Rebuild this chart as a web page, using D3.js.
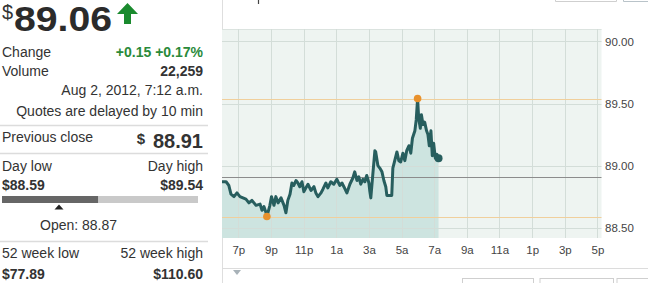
<!DOCTYPE html>
<html>
<head>
<meta charset="utf-8">
<script src="https://cdn.jsdelivr.net/npm/d3@7"></script>
<style>
  html, body { margin: 0; padding: 0; background: #fff; }
  svg { display: block; font-family: "Liberation Sans", Arial, sans-serif; }
</style>
</head>
<body>
<svg id="chart" width="648" height="283"></svg>
<script>
// ---------------- DATA ----------------
const lastPrice = "89.06";
const changeText = "+0.15 +0.17%";
const volumeText = "22,259";
const dateText = "Aug 2, 2012, 7:12 a.m.";
const delayText = "Quotes are delayed by 10 min";
const prevClose = 88.91;
const dayLow = 88.59;
const dayHigh = 89.54;
const openPrice = 88.87;
const week52Low = "$77.89";
const week52High = "$110.60";

// intraday series (Aug 1 evening -> Aug 2 morning)
const times = ["18:00","18:15","18:25","18:33","18:44","18:55","19:06","19:17","19:28","19:39",
  "19:50","20:05","20:20","20:27","20:34","20:42","20:45","20:56","21:02","21:11",
  "21:18","21:26","21:37","21:48","21:55","22:02","22:10","22:17","22:24","22:32",
  "22:39","22:46","22:54","23:01","23:08","23:16","23:27","23:38","23:45","23:53",
  "00:04","00:11","00:22","00:29","00:40","00:51","01:02","01:13","01:21","01:28",
  "01:39","01:50","02:01","02:08","02:16","02:23","02:30","02:38","02:45","02:52",
  "03:00","03:03","03:07","03:14","03:22","03:25","03:33","03:40","03:48","03:55",
  "04:02","04:06","04:24","04:28","04:35","04:43","04:50","04:57","05:05","05:12",
  "05:19","05:27","05:34","05:40","05:49","05:54","05:59","06:03","06:09","06:13",
  "06:19","06:25","06:32","06:37","06:42","06:48","06:53","06:58","07:04","07:10","07:16"];
const prices = [88.87,88.87,88.84,88.77,88.75,88.78,88.75,88.74,88.73,88.70,
  88.72,88.68,88.69,88.64,88.67,88.62,88.59,88.68,88.75,88.68,
  88.75,88.70,88.74,88.68,88.62,88.72,88.77,88.86,88.84,88.88,
  88.86,88.83,88.87,88.79,88.82,88.85,88.80,88.83,88.78,88.75,
  88.78,88.81,88.86,88.82,88.87,88.85,88.89,88.84,88.86,88.83,
  88.78,88.85,88.90,88.95,88.88,88.91,88.85,88.89,88.87,88.92,
  88.86,88.80,88.74,88.92,89.12,89.11,89.00,88.98,88.95,88.88,
  88.83,88.76,88.76,88.98,89.04,89.11,89.04,89.03,89.10,89.04,
  89.12,89.16,89.10,89.22,89.28,89.37,89.54,89.38,89.30,89.41,
  89.33,89.35,89.28,89.25,89.16,89.28,89.08,89.18,89.06,89.09,89.06];

const tickTimes = ["19:00","21:00","23:00","01:00","03:00","05:00","07:00","09:00","11:00","13:00","15:00","17:00"];
const tickLabels = ["7p","9p","11p","1a","3a","5a","7a","9a","11a","1p","3p","5p"];
const yTicks = [88.5, 89.0, 89.5, 90.0];
const xStart = "18:00", xEnd = "17:15";
const yMin = 88.417, yMax = 90.10;

// -------------- helpers --------------
function toDate(s) {
  const [h, m] = s.split(":").map(Number);
  return h >= 18 ? new Date(2012, 7, 1, h, m) : new Date(2012, 7, 2, h, m);
}
const data = times.map((t, i) => ({ t: toDate(t), p: prices[i] }));

const svg = d3.select("#chart");
const font = "'Liberation Sans', Arial, sans-serif";

// ================= LEFT PANEL =================
const L = svg.append("g");
const txtColor = "#333";
const RX = 203;

L.append("text").attr("x", 2).attr("y", 19).attr("font-size", 20).attr("fill", txtColor).text("$");
L.append("text").attr("x", 14).attr("y", 30.5).attr("font-size", 35)
  .attr("font-weight", "bold").attr("fill", "#2b2b2b")
  .attr("textLength", 98).attr("lengthAdjust", "spacingAndGlyphs").text(lastPrice);
// up arrow
L.append("path")
  .attr("d", "M127.5,3 L138,14 L131,14 L131,24 L124,24 L124,14 L117,14 Z")
  .attr("fill", "#1a8a2e");

function row(label, value, y, opts = {}) {
  if (label) L.append("text").attr("x", 2).attr("y", y).attr("font-size", 14)
    .attr("font-weight", opts.boldLabel ? "bold" : "normal").attr("fill", txtColor).text(label);
  if (value) L.append("text").attr("x", RX).attr("y", y).attr("font-size", opts.size || 14)
    .attr("text-anchor", "end").attr("font-weight", opts.bold ? "bold" : "normal")
    .attr("fill", opts.color || txtColor).text(value);
}
row("Change", changeText, 57, { bold: true, color: "#2a8a3a" });
row("Volume", volumeText, 76, { bold: true });
row(null, dateText, 95);
row(null, delayText, 116);

function sep(y) {
  L.append("line").attr("x1", 0).attr("x2", 208).attr("y1", y + 0.5).attr("y2", y + 0.5)
    .attr("stroke", "#dcdcdc").attr("stroke-width", 1.5);
}
sep(125);
row("Previous close", null, 141.5);
L.append("text").attr("x", RX).attr("y", 148).attr("font-size", 20).attr("font-weight", "bold")
  .attr("text-anchor", "end").attr("fill", txtColor).text(d3.format(".2f")(prevClose));
L.append("text").attr("x", 145).attr("y", 144).attr("font-size", 15).attr("font-weight", "bold")
  .attr("text-anchor", "end").attr("fill", txtColor).text("$");
sep(153);
row("Day low", "Day high", 170.5);
row("$" + d3.format(".2f")(dayLow), "$" + d3.format(".2f")(dayHigh), 190, { bold: true, boldLabel: true });

// day range bar
const bar = d3.scaleLinear().domain([0, 1]).range([2, 198]);
const frac = 0.49;
L.append("rect").attr("x", bar(0)).attr("y", 196).attr("width", bar(1) - bar(0)).attr("height", 7).attr("fill", "#c9c9c9");
L.append("rect").attr("x", bar(0)).attr("y", 196).attr("width", bar(frac) - bar(0)).attr("height", 7).attr("fill", "#666");
const openX = 59;
L.append("path").attr("d", `M${openX},204.5 L${openX + 4.5},209.5 L${openX - 4.5},209.5 Z`).attr("fill", "#222");
L.append("text").attr("x", 40).attr("y", 229.5).attr("font-size", 14).attr("fill", txtColor)
  .text("Open: " + d3.format(".2f")(openPrice));
sep(241);
row("52 week low", "52 week high", 258);
row(week52Low, week52High, 279, { bold: true, boldLabel: true });

// ================= CHART PANEL =================
const plot = { left: 222, right: 601.5, top: 29, bottom: 238 };
const x = d3.scaleTime().domain([toDate(xStart), toDate(xEnd)]).range([plot.left, plot.right]);
const y = d3.scaleLinear().domain([yMin, yMax]).range([plot.bottom, plot.top]);

const C = svg.append("g");
// panel left border
C.append("line").attr("x1", 222.5).attr("x2", 222.5).attr("y1", 0).attr("y2", 283).attr("stroke", "#dedede");
// top bits of controls (cut off by the frame)
C.append("path").attr("d", "M258.5,0 V4").attr("stroke", "#444").attr("stroke-width", 1.2);
C.append("path").attr("d", "M555.5,-2 V1.5 H616.5 V-2").attr("fill", "none").attr("stroke", "#cfcfcf");
C.append("path").attr("d", "M623.5,-2 V1.5 H648").attr("fill", "none").attr("stroke", "#b9c3c9");

// plot background
C.append("rect").attr("x", plot.left).attr("y", plot.top).attr("width", plot.right - plot.left)
  .attr("height", plot.bottom - plot.top).attr("fill", "#eef4f1");
C.append("line").attr("x1", plot.left).attr("x2", plot.right).attr("y1", plot.top + 0.5).attr("y2", plot.top + 0.5)
  .attr("stroke", "#dbe3df");

// area
const area = d3.area().x(d => x(d.t)).y0(plot.bottom).y1(d => y(d.p));
C.append("path").datum(data).attr("d", area).attr("fill", "#cde4e0");

// grid
const tickDates = tickTimes.map(toDate);
C.append("g").selectAll("line").data(tickDates).join("line")
  .attr("x1", d => Math.round(x(d)) + 0.5).attr("x2", d => Math.round(x(d)) + 0.5)
  .attr("y1", plot.top).attr("y2", plot.bottom).attr("stroke", "#d3ddd8");
C.append("g").selectAll("line").data(yTicks).join("line")
  .attr("x1", plot.left).attr("x2", plot.right)
  .attr("y1", d => Math.round(y(d)) + 0.5).attr("y2", d => Math.round(y(d)) + 0.5)
  .attr("stroke", "#d3ddd8");

// reference lines
C.append("line").attr("x1", plot.left).attr("x2", plot.right)
  .attr("y1", Math.round(y(prevClose)) + 0.5).attr("y2", Math.round(y(prevClose)) + 0.5)
  .attr("stroke", "#8c8c8c");
[dayHigh, dayLow].forEach(v => {
  C.append("line").attr("x1", plot.left).attr("x2", plot.right)
    .attr("y1", Math.round(y(v)) + 0.5).attr("y2", Math.round(y(v)) + 0.5)
    .attr("stroke", "#f0cf9c");
});

// price line
const line = d3.line().x(d => x(d.t)).y(d => y(d.p));
C.append("path").datum(data).attr("d", line).attr("fill", "none")
  .attr("stroke", "#275e5e").attr("stroke-width", 3).attr("stroke-linejoin", "round");

// dots
const hi = data.reduce((a, b) => b.p > a.p ? b : a);
const lo = data.reduce((a, b) => b.p < a.p ? b : a);
[hi, lo].forEach(d => {
  C.append("circle").attr("cx", x(d.t)).attr("cy", y(d.p)).attr("r", 3.8).attr("fill", "#e8912c");
});
const last = data[data.length - 1];
C.append("circle").attr("cx", x(last.t)).attr("cy", y(last.p)).attr("r", 4).attr("fill", "#275e5e");

// axes
const xAxis = d3.axisBottom(x).tickValues(tickDates).tickSize(0).tickPadding(0)
  .tickFormat((d, i) => tickLabels[i]);
const gx = C.append("g").attr("transform", `translate(0,${plot.bottom + 16})`).call(xAxis);
gx.select(".domain").remove();
gx.selectAll("text").attr("font-size", 11.5).attr("font-family", font).attr("fill", "#444").attr("dy", 0);

const yAxis = d3.axisRight(y).tickValues(yTicks).tickSize(0).tickPadding(0).tickFormat(d3.format(".2f"));
const gy = C.append("g").attr("transform", `translate(605,0)`).call(yAxis);
gy.select(".domain").remove();
gy.selectAll("text").attr("font-size", 11.5).attr("font-family", font).attr("fill", "#444");

// bottom rule, marker, buttons
C.append("line").attr("x1", 222).attr("x2", 648).attr("y1", 268.5).attr("y2", 268.5).attr("stroke", "#dcdcdc").attr("stroke-width", 1.2);
C.append("path").attr("d", "M233,270 L241,270 L237,275 Z").attr("fill", "#a8b2b8");
[[462, 533], [539.5, 613], [616.5, 660]].forEach(([a, b]) => {
  C.append("rect").attr("x", a + 0.5).attr("y", 278.5).attr("width", b - a).attr("height", 12)
    .attr("fill", "#fff").attr("stroke", "#cfcfcf");
});
</script>
</body>
</html>
